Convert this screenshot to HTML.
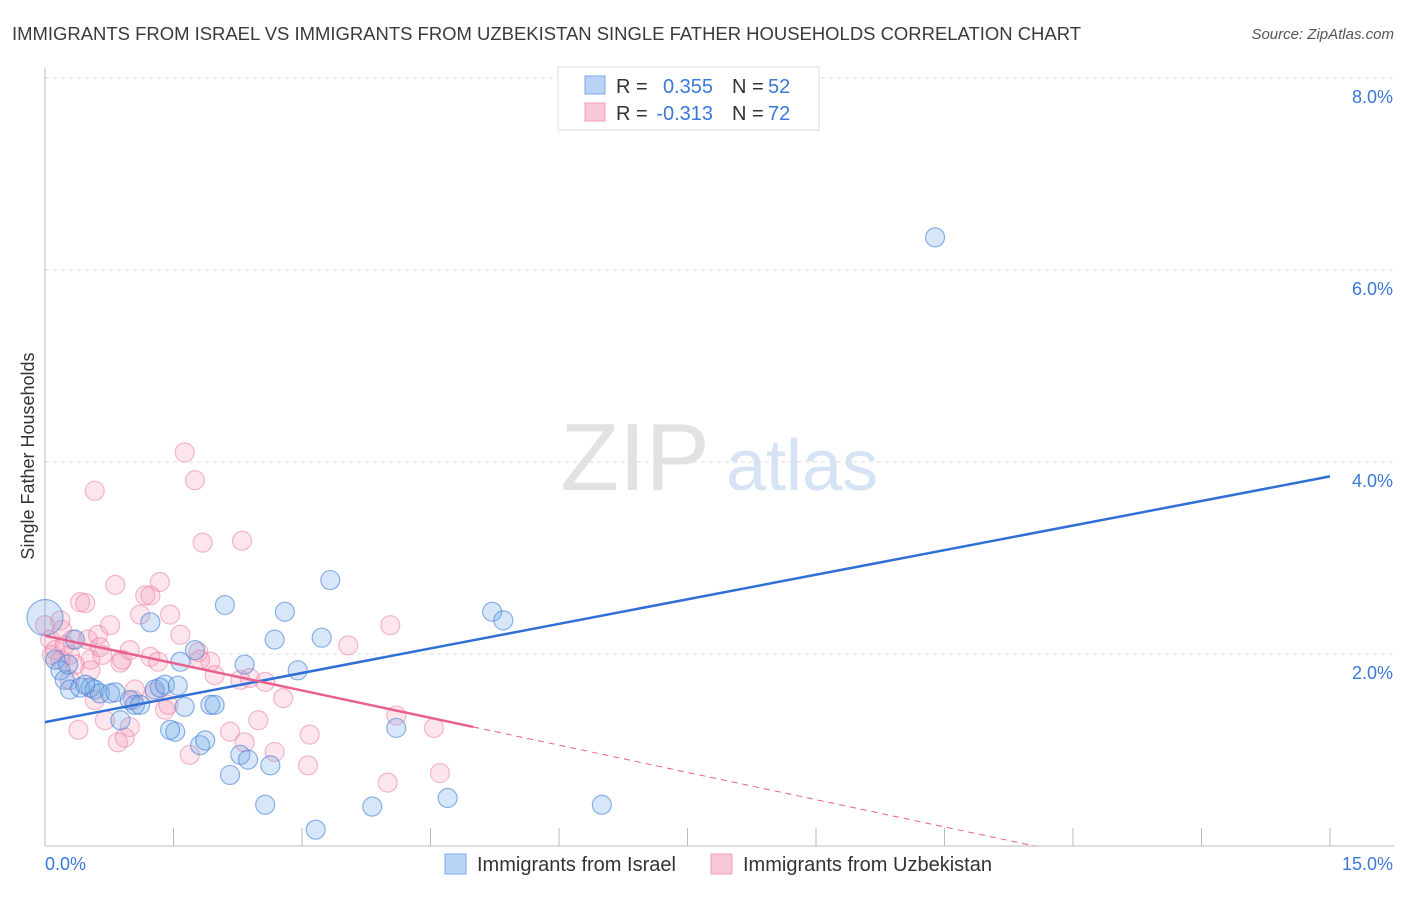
<!DOCTYPE html>
<html><head><meta charset="utf-8"><style>
body{margin:0;background:#fff;font-family:"Liberation Sans",sans-serif}
svg text{font-family:"Liberation Sans",sans-serif}
</style></head><body>
<svg width="1406" height="892" viewBox="0 0 1406 892">
<text x="12" y="40" font-size="18" textLength="1069" lengthAdjust="spacingAndGlyphs" fill="#3a3a3a">IMMIGRANTS FROM ISRAEL VS IMMIGRANTS FROM UZBEKISTAN SINGLE FATHER HOUSEHOLDS CORRELATION CHART</text>
<text x="1394" y="39" font-size="15" fill="#555" font-style="italic" text-anchor="end">Source: ZipAtlas.com</text>
<g>
<text x="635" y="490" font-size="96" fill="#e2e2e2" font-family="Liberation Serif,serif" text-anchor="middle">ZIP</text>
<text x="802" y="490" font-size="72" fill="#d5e3f5" text-anchor="middle">atlas</text>
</g>
<g id="grid"></g>
<g id="axes"></g>
<text transform="translate(34,456) rotate(-90)" font-size="18" fill="#333" text-anchor="middle">Single Father Households</text>
<g id="pts"></g>
<g id="lines"></g>
<g>
<rect x="558" y="67" width="261" height="63" fill="#fff" stroke="#ddd"/>
<rect x="585" y="76" width="20" height="18" fill="#b8d3f5" stroke="#7aa8e6"/>
<rect x="585" y="103" width="20" height="18" fill="#f9c8d6" stroke="#f0a0b8"/>
<text x="616" y="93" font-size="20" fill="#333">R =</text>
<text x="713" y="93" font-size="20" fill="#3a78d8" text-anchor="end">0.355</text>
<text x="732" y="93" font-size="20" fill="#333">N =</text>
<text x="768" y="93" font-size="20" fill="#3a78d8">52</text>
<text x="616" y="120" font-size="20" fill="#333">R =</text>
<text x="713" y="120" font-size="20" fill="#3a78d8" text-anchor="end">-0.313</text>
<text x="732" y="120" font-size="20" fill="#333">N =</text>
<text x="768" y="120" font-size="20" fill="#3a78d8">72</text>
</g>
<g>
<rect x="445" y="854" width="21" height="20" fill="#b8d3f5" stroke="#7aa8e6"/>
<text x="477" y="871" font-size="20" fill="#333">Immigrants from Israel</text>
<rect x="711" y="854" width="21" height="20" fill="#f9c8d6" stroke="#f0a0b8"/>
<text x="743" y="871" font-size="20" fill="#333">Immigrants from Uzbekistan</text>
</g>
</svg>
<script>
const yTicks=[2,4,6,8];
const yTickLabels=["2.0%","4.0%","6.0%","8.0%"];
const xTickVals=[0,1.5,3,4.5,6,7.5,9,10.5,12,13.5,15];
const israelX=[0,.12,.18,.23,.29,.41,.53,.58,.64,.76,.82,.99,1.05,1.11,1.23,1.28,1.34,1.40,1.52,1.55,1.58,1.63,1.75,1.81,1.87,1.93,1.98,2.10,2.16,2.28,2.33,2.37,2.57,2.63,2.68,2.80,2.95,3.16,3.23,3.33,3.82,4.10,4.70,5.22,5.35,6.50,10.39,.35,.88,1.46,.27,.47];
const israelY=[2.38,1.94,1.83,1.73,1.63,1.65,1.65,1.63,1.59,1.59,1.60,1.52,1.47,1.47,2.33,1.63,1.65,1.68,1.19,1.67,1.92,1.45,2.04,1.05,1.10,1.47,1.47,2.51,.74,.95,1.89,.90,.43,.84,2.15,2.44,1.83,.17,2.17,2.77,.41,1.23,.50,2.44,2.35,.43,6.34,2.15,1.31,1.21,1.89,1.68];
const uzbX=[0,.06,.08,.12,.18,.20,.23,.29,.32,.35,.39,.41,.47,.50,.53,.58,.62,.64,.67,.76,.82,.85,.88,.90,.93,.99,1.05,1.11,1.17,1.23,1.23,1.28,1.32,1.34,1.40,1.44,1.46,1.58,1.63,1.69,1.75,1.79,1.84,1.93,1.98,2.16,2.28,2.30,2.33,2.39,2.49,2.57,2.68,2.78,3.07,3.09,3.54,4.03,4.00,4.10,4.54,4.61,.70,.18,.58,1.03,1.81,.53,.29,.99];
const uzbY=[2.30,2.15,1.99,2.04,1.94,2.25,2.09,1.99,2.15,1.89,1.21,2.54,2.53,2.15,1.94,3.70,2.20,2.07,1.99,2.30,2.72,1.08,1.91,1.94,1.13,1.24,1.63,2.41,2.61,2.61,1.97,1.60,1.92,2.75,1.42,1.47,2.41,2.20,4.10,.95,3.81,2.02,3.16,1.92,1.78,1.19,1.73,3.18,1.08,1.75,1.31,1.71,.98,1.54,.84,1.16,2.09,2.30,.66,1.36,1.23,.76,1.31,2.35,1.52,1.52,1.94,1.83,1.73,2.04];
const israelTrend=[[0,1.29],[15,3.85]];
const uzbTrend=[[0,2.19],[5.0,1.24]];
const uzbTrendExt=[[5.0,1.24],[11.55,0]];
const NS="http://www.w3.org/2000/svg";
const X=v=>45+v*(1285/15), Y=v=>846-v*96;
function mk(tag,attrs,parent){const e=document.createElementNS(NS,tag);for(const k in attrs)e.setAttribute(k,attrs[k]);parent.appendChild(e);return e;}
const grid=document.getElementById('grid'),axes=document.getElementById('axes'),pts=document.getElementById('pts'),lines=document.getElementById('lines');
yTicks.forEach((t,i)=>{
 const l=mk('line',{x1:45,x2:1394,y1:Y(t),y2:Y(t),stroke:'#ddd','stroke-dasharray':'4,4'},grid);
 
 
 const tx=mk('text',{x:1393,y:Y(t)+25,'font-size':18,fill:'#3a78d8','text-anchor':'end'},axes);
 tx.textContent=yTickLabels[i];
 
 
});
const ya=mk('line',{x1:45,x2:45,y1:68,y2:846,stroke:'#bbb'},axes);


const xa=mk('line',{x1:45,x2:1394,y1:846,y2:846,stroke:'#bbb'},axes);


xTickVals.forEach(t=>{
 const l=mk('line',{x1:X(t),x2:X(t),y1:828,y2:846,stroke:'#bbb'},axes);
 
 
});
const x0=mk('text',{x:45,y:870,'font-size':18,fill:'#3a78d8'},axes);x0.textContent='0.0%';


const x1=mk('text',{x:1393,y:870,'font-size':18,fill:'#3a78d8','text-anchor':'end'},axes);x1.textContent='15.0%';


uzbX.forEach((v,i)=>{
 const c=mk('circle',{cx:X(v),cy:Y(uzbY[i]),r:9.5,fill:'rgba(244,150,180,0.25)',stroke:'rgba(236,130,165,0.55)','stroke-width':1.2},pts);
 
 
});
israelX.forEach((v,i)=>{
 const c=mk('circle',{cx:X(v),cy:Y(israelY[i]),r:i===0?18:9.5,fill:'rgba(110,165,230,0.28)',stroke:'rgba(70,130,215,0.6)','stroke-width':1.2},pts);
 
 
});
function ln(p,col,w,dash,name){const l=mk('line',{x1:X(p[0][0]),y1:Y(p[0][1]),x2:X(p[1][0]),y2:Y(p[1][1]),stroke:col,'stroke-width':w},lines);if(dash)l.setAttribute('stroke-dasharray',dash);
 
 }
ln(israelTrend,'#2f6fd6',2.5,null,'trendline-israel');
ln(uzbTrend,'#e8608e',2.5,null,'trendline-uzbekistan');
ln(uzbTrendExt,'#e8608e',1,'6,5','trendline-uzbekistan-extension');
</script>
</body></html>
